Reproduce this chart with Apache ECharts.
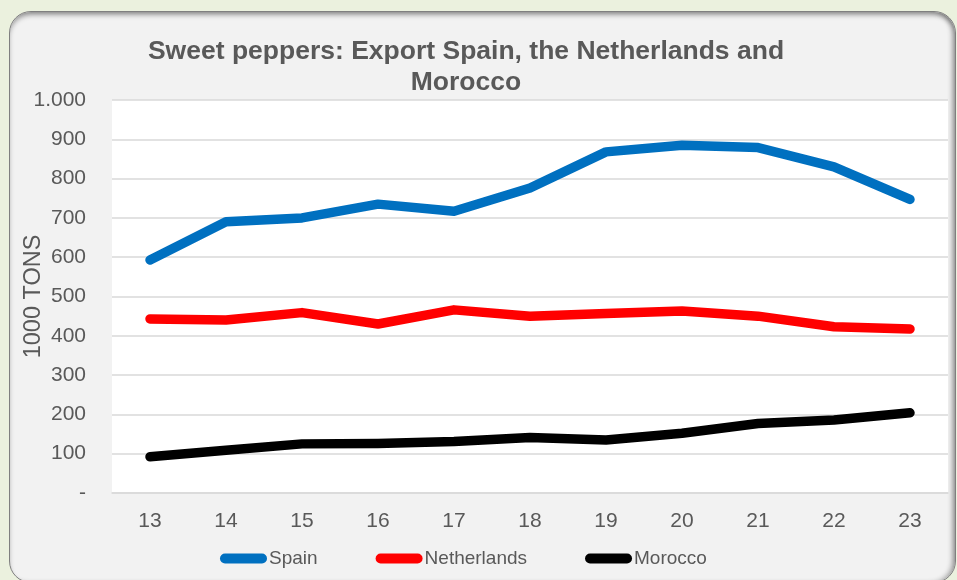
<!DOCTYPE html>
<html>
<head>
<meta charset="utf-8">
<script src="https://cdn.jsdelivr.net/npm/echarts@6/dist/echarts.min.js"></script>
<style>
html,body{margin:0;padding:0;width:957px;height:580px;overflow:hidden;background:#EBF1DE;}
#panel{position:absolute;left:9px;top:11px;width:945px;height:570px;border-radius:22px;background:#F2F2F2;border:1.5px solid #7F7F7F;box-shadow:inset 0 4px 5px -1px rgba(0,0,0,0.35), inset -4px 0 5px -1px rgba(0,0,0,0.3);}
#chart{position:absolute;left:0;top:0;width:957px;height:580px;}
</style>
</head>
<body>
<div id="panel"></div>
<div id="chart"></div>
<script>
const categories = ['13','14','15','16','17','18','19','20','21','22','23'];
const spain = [593, 690, 700, 735, 717, 776, 868, 885, 879, 830, 747];
const netherlands = [443, 440, 459, 430, 466, 450, 457, 463, 450, 423, 417];
const morocco = [92, 109, 125, 126, 131, 141, 135, 152, 177, 186, 204];
const seriesNames = ['Spain', 'Netherlands', 'Morocco'];

const chart = echarts.init(document.getElementById('chart'), null, {renderer: 'canvas'});
const txt = '#595959';
const font = 'Liberation Sans, Arial, sans-serif';
const pill = 'path://M5,0 L42,0 A5,5 0 0 1 42,10 L5,10 A5,5 0 0 1 5,0 Z';
function line(name, data, color) {
  return {
    name: name, type: 'line', data: data, symbol: 'none', showSymbol: false,
    lineStyle: {color: color, width: 9.5, cap: 'round', join: 'round'},
    itemStyle: {color: color}, animation: false
  };
}
chart.setOption({
  backgroundColor: 'transparent',
  animation: false,
  title: {
    text: 'Sweet peppers: Export Spain, the Netherlands and\nMorocco',
    left: 461, textAlign: 'center', top: 31, padding: 5,
    textStyle: {color: txt, fontFamily: font, fontWeight: 'bold', fontSize: 26.5, lineHeight: 31}
  },
  legend: {
    data: seriesNames, left: 220, top: 549, padding: 0, itemGap: 58,
    itemWidth: 47, itemHeight: 10, icon: pill,
    textStyle: {color: txt, fontFamily: font, fontSize: 19, padding: [0, 0, 0, -3]}
  },
  grid: {left: 112, right: 9, top: 100, bottom: 87, show: true, backgroundColor: '#FFFFFF', borderWidth: 0,
         containLabel: false, outerBoundsMode: 'none'},
  xAxis: {
    type: 'category', data: categories, boundaryGap: true,
    axisLine: {show: true, lineStyle: {color: '#D9D9D9', width: 1.5}},
    axisTick: {show: false},
    axisLabel: {color: txt, fontFamily: font, fontSize: 21, margin: 18}
  },
  yAxis: {
    type: 'value', min: 0, max: 1000, interval: 100,
    name: '1000 TONS', nameLocation: 'middle', nameGap: 66, nameRotate: 90, nameMoveOverlap: false,
    nameTextStyle: {color: txt, fontFamily: font, fontSize: 23.5},
    axisLine: {show: false}, axisTick: {show: false},
    splitLine: {lineStyle: {color: '#D9D9D9', width: 1.5}},
    axisLabel: {
      color: txt, fontFamily: font, fontSize: 21, margin: 26,
      formatter: function (v) { if (v === 0) return '-'; if (v >= 1000) return '1.000'; return String(v); }
    }
  },
  series: [
    line('Spain', spain, '#0070C0'),
    line('Netherlands', netherlands, '#FF0000'),
    line('Morocco', morocco, '#000000')
  ]
});
</script>
</body>
</html>
